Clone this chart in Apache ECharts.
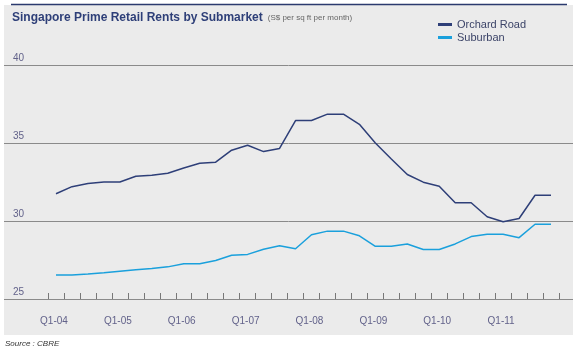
<!DOCTYPE html>
<html>
<head>
<meta charset="utf-8">
<script src="https://cdn.jsdelivr.net/npm/echarts@6/dist/echarts.min.js"></script>
<style>
  html, body { margin: 0; padding: 0; background: #fff; }
  #chart { width: 578px; height: 350px; }
</style>
</head>
<body>
<div id="chart"></div>
<script>
// quarters Q1-04 .. Q4-11
const years = ['04', '05', '06', '07', '08', '09', '10', '11']
const quarters = []
years.forEach(y => {
  for (let q = 1; q <= 4; q++) quarters.push('Q' + q + '-' + y)
})

const orchardRoad = [31.75, 32.2, 32.4, 32.5, 32.5, 32.87, 32.94, 33.06, 33.4, 33.7, 33.77, 34.54,
  34.86, 34.45, 34.65, 36.44, 36.44, 36.85, 36.85, 36.2, 35.0, 33.98, 32.98, 32.49,
  32.23, 31.17, 31.17, 30.27, 29.95, 30.16, 31.65, 31.65]
const suburban = [26.54, 26.54, 26.6, 26.68, 26.78, 26.87, 26.95, 27.06, 27.26, 27.26, 27.47, 27.8,
  27.86, 28.19, 28.42, 28.22, 29.12, 29.35, 29.35, 29.05, 28.38, 28.38, 28.53, 28.17,
  28.17, 28.53, 29.0, 29.15, 29.15, 28.93, 29.79, 29.79]

const yTicks = { min: 25, max: 40, interval: 5 }

const font = '"Liberation Sans", Arial, sans-serif'
const navy = '#2e3f78'
const sky = '#1aa0dc'
const labelColor = '#62628a'

const chart = echarts.init(document.getElementById('chart'), null, { renderer: 'canvas' })

chart.setOption({
  animation: false,
  textStyle: { fontFamily: font },
  graphic: [
    { type: 'rect', silent: true, z: -10, shape: { x: 4, y: 5, width: 569, height: 330 }, style: { fill: '#ebebeb' } },
    { type: 'line', silent: true, shape: { x1: 11, y1: 4.5, x2: 567, y2: 4.5 }, style: { stroke: '#2b3a6e', lineWidth: 1.5 } },
    { type: 'text', silent: true, left: 5, top: 340, style: { text: 'Source : CBRE', font: 'italic 8px ' + font, fill: '#333' } },
  ],
  title: {
    left: 7,
    top: 4,
    text: '{a|Singapore Prime Retail Rents by Submarket} {b|(S$ per sq ft per month)}',
    textStyle: {
      rich: {
        a: { fontSize: 12, fontWeight: 'bold', color: navy, fontFamily: font },
        b: { fontSize: 8, fontWeight: 'normal', color: '#666', fontFamily: font },
      },
    },
  },
  legend: {
    orient: 'vertical',
    left: 433,
    top: 13,
    itemWidth: 14,
    itemHeight: 3,
    itemGap: 0,
    icon: 'rect',
    textStyle: { fontSize: 11, color: '#3c4468', lineHeight: 13 },
    data: ['Orchard Road', 'Suburban'],
  },
  grid: [
    { left: 4, right: 5, top: 65, bottom: 51 },
    { left: 48, right: 19, top: 65, bottom: 51 },
  ],
  xAxis: [
    { type: 'value', gridIndex: 0, show: false },
    {
      type: 'category',
      gridIndex: 1,
      data: quarters,
      boundaryGap: true,
      axisLine: { show: false },
      axisTick: { show: true, inside: true, length: 6, interval: 0, lineStyle: { color: '#777' } },
      axisLabel: { interval: 3, margin: 17, fontSize: 10, color: labelColor, padding: [0, 4, 0, 0] },
      splitLine: { show: false },
    },
  ],
  yAxis: [
    {
      type: 'value',
      gridIndex: 0,
      min: yTicks.min,
      max: yTicks.max,
      interval: yTicks.interval,
      axisLine: { show: false },
      axisTick: { show: false },
      axisLabel: { inside: true, margin: 9, fontSize: 10, color: labelColor, verticalAlign: 'bottom', padding: [0, 0, 2, 0] },
      splitLine: { lineStyle: { color: '#8a8a8a', width: 1 } },
    },
    { type: 'value', gridIndex: 1, min: yTicks.min, max: yTicks.max, show: false },
  ],
  series: [
    {
      name: 'Orchard Road',
      type: 'line',
      xAxisIndex: 1,
      yAxisIndex: 1,
      data: orchardRoad,
      showSymbol: false,
      color: navy,
      lineStyle: { width: 1.5, color: navy },
    },
    {
      name: 'Suburban',
      type: 'line',
      xAxisIndex: 1,
      yAxisIndex: 1,
      data: suburban,
      showSymbol: false,
      color: sky,
      lineStyle: { width: 1.5, color: sky },
    },
  ],
})
</script>
</body>
</html>
